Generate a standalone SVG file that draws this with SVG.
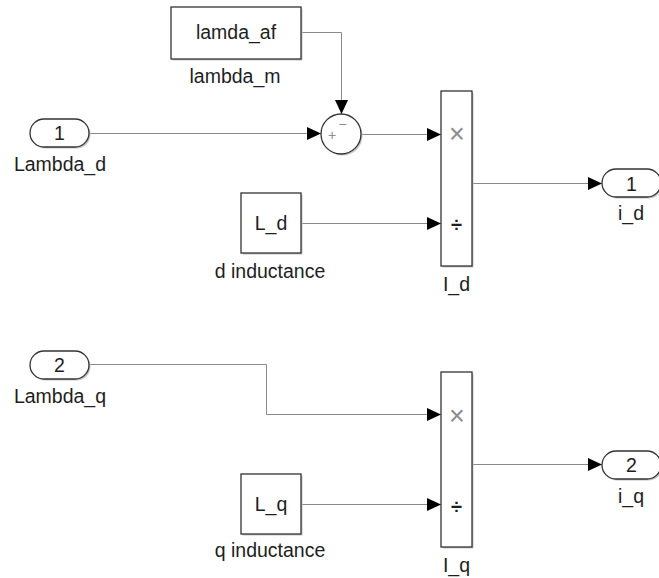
<svg xmlns="http://www.w3.org/2000/svg" width="659" height="578" viewBox="0 0 659 578">
  <style>
    .blk { fill: #ffffff; stroke: #333333; stroke-width: 1.3; }
    .shd { fill: #c4c4c4; stroke: none; }
    .wire { fill: none; stroke: #8a8a8a; stroke-width: 1; }
    .lbl { font-family: "Liberation Sans", Arial, sans-serif; font-size: 19.5px; fill: #1e1e1e; text-anchor: middle; }
    .sym { font-family: "Liberation Sans", Arial, sans-serif; fill: #8c8c8c; text-anchor: middle; }
    .div { font-family: "Liberation Sans", Arial, sans-serif; font-weight: bold; fill: #1e1e1e; text-anchor: middle; }
  </style>
  <defs>
    <marker id="arrow" markerUnits="userSpaceOnUse" markerWidth="15" markerHeight="14" refX="14" refY="7" orient="auto">
      <path d="M0,0.5 L14,7 L0,13.5 z" fill="#000000"/>
    </marker>
  </defs>
  <rect width="659" height="578" fill="#ffffff"/>

  <!-- signal lines -->
  <g id="connectors">
    <polyline class="wire" points="301,32.5 341.5,32.5 341.5,114" marker-end="url(#arrow)"/>
    <line class="wire" x1="89" y1="133.5" x2="321" y2="133.5" marker-end="url(#arrow)"/>
    <line class="wire" x1="361" y1="134.5" x2="441" y2="134.5" marker-end="url(#arrow)"/>
    <line class="wire" x1="301" y1="223.5" x2="441" y2="223.5" marker-end="url(#arrow)"/>
    <line class="wire" x1="472" y1="183.5" x2="602" y2="183.5" marker-end="url(#arrow)"/>
    <polyline class="wire" points="89,364.5 266.5,364.5 266.5,414.5 441,414.5" marker-end="url(#arrow)"/>
    <line class="wire" x1="301" y1="504.5" x2="441" y2="504.5" marker-end="url(#arrow)"/>
    <line class="wire" x1="472" y1="464.5" x2="602" y2="464.5" marker-end="url(#arrow)"/>
  </g>

  <!-- constant lambda_m -->
  <g id="lambda_m">
    <rect class="shd" x="172.5" y="8.5" width="130" height="52"/>
    <rect class="blk" x="171" y="7" width="130" height="52"/>
    <text class="lbl" x="236" y="39">lamda_af</text>
    <text class="lbl" x="235" y="83">lambda_m</text>
  </g>

  <!-- inport 1 -->
  <g id="Lambda_d">
    <rect class="shd" x="31.5" y="120.5" width="59" height="28" rx="14"/>
    <rect class="blk" x="30" y="119" width="59" height="28" rx="14"/>
    <text class="lbl" x="59.5" y="140">1</text>
    <text class="lbl" x="60" y="171">Lambda_d</text>
  </g>

  <!-- sum -->
  <g id="sum">
    <circle class="shd" cx="342.5" cy="135.5" r="20"/>
    <circle class="blk" cx="341" cy="134" r="20"/>
    <text class="sym" x="332" y="140" font-size="14">+</text>
    <text class="sym" x="342.5" y="128.5" font-size="14">−</text>
  </g>

  <!-- constant L_d -->
  <g id="d_inductance">
    <rect class="shd" x="242.5" y="194.5" width="60" height="60"/>
    <rect class="blk" x="241" y="193" width="60" height="60"/>
    <text class="lbl" x="271" y="229.5">L_d</text>
    <text class="lbl" x="270" y="278">d inductance</text>
  </g>

  <!-- product I_d -->
  <g id="I_d">
    <rect class="shd" x="442.5" y="92.5" width="31" height="175"/>
    <rect class="blk" x="441" y="91" width="31" height="175"/>
    <text class="sym" x="457" y="143" font-size="27">×</text>
    <text class="div" x="456.5" y="232" font-size="20">÷</text>
    <text class="lbl" x="456.5" y="291">I_d</text>
  </g>

  <!-- outport 1 -->
  <g id="i_d">
    <rect class="shd" x="603.5" y="170.5" width="59" height="28" rx="14"/>
    <rect class="blk" x="602" y="169" width="59" height="28" rx="14"/>
    <text class="lbl" x="631.5" y="191">1</text>
    <text class="lbl" x="631" y="220">i_d</text>
  </g>

  <!-- inport 2 -->
  <g id="Lambda_q">
    <rect class="shd" x="31.5" y="352.5" width="59" height="28" rx="14"/>
    <rect class="blk" x="30" y="351" width="59" height="28" rx="14"/>
    <text class="lbl" x="59.5" y="372">2</text>
    <text class="lbl" x="60" y="402.5">Lambda_q</text>
  </g>

  <!-- constant L_q -->
  <g id="q_inductance">
    <rect class="shd" x="242.5" y="475.5" width="60" height="60"/>
    <rect class="blk" x="241" y="474" width="60" height="60"/>
    <text class="lbl" x="271" y="510.5">L_q</text>
    <text class="lbl" x="270" y="557">q inductance</text>
  </g>

  <!-- product I_q -->
  <g id="I_q">
    <rect class="shd" x="442.5" y="373.5" width="31" height="175"/>
    <rect class="blk" x="441" y="372" width="31" height="175"/>
    <text class="sym" x="457" y="425" font-size="27">×</text>
    <text class="div" x="456.5" y="514" font-size="20">÷</text>
    <text class="lbl" x="456.5" y="571.5">I_q</text>
  </g>

  <!-- outport 2 -->
  <g id="i_q">
    <rect class="shd" x="603.5" y="452.5" width="59" height="28" rx="14"/>
    <rect class="blk" x="602" y="451" width="59" height="28" rx="14"/>
    <text class="lbl" x="631.5" y="472">2</text>
    <text class="lbl" x="631" y="502.5">i_q</text>
  </g>
</svg>
